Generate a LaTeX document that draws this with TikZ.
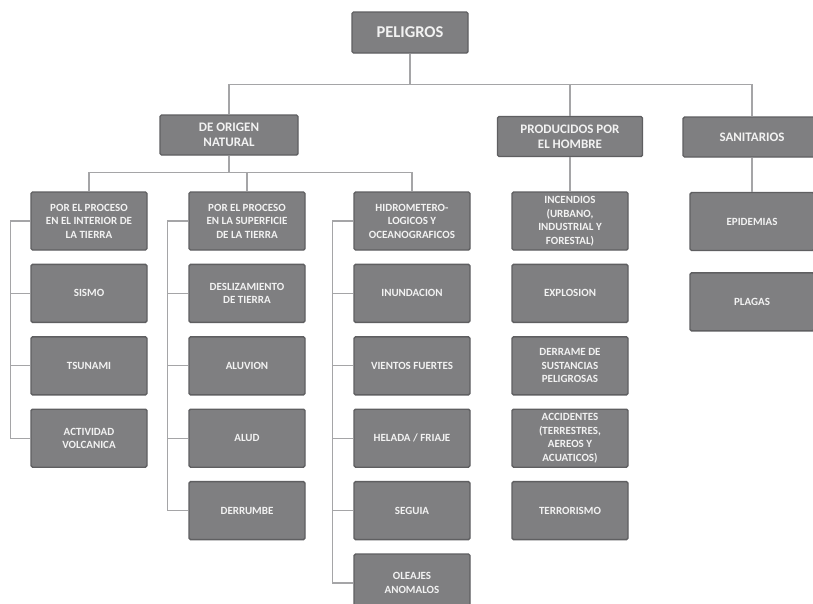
\documentclass[tikz,border=0pt]{standalone}
\usepackage{fontspec}
\setmainfont{Carlito}
\usetikzlibrary{positioning}
\definecolor{boxgray}{RGB}{127,127,129}
\definecolor{boxedge}{RGB}{95,95,97}
\definecolor{boxtext}{RGB}{242,242,242}
\definecolor{linegray}{RGB}{165,165,167}

\begin{document}
\begin{tikzpicture}[
  x=1pt, y=-1pt,
  node distance=13pt,
  box/.style={rectangle, draw=boxedge, fill=boxgray, line width=1.4pt, rounded corners=1.5pt,
              text=boxtext, align=center, inner sep=1pt, minimum width=116pt, minimum height=58pt,
              font=\fontsize{11}{13.5}\selectfont\bfseries},
  group/.style={box, minimum height=40pt, font=\fontsize{13}{15}\selectfont\bfseries},
  link/.style={draw=linegray, line width=1.1pt}
]
  \clip (0,0) rectangle (813,603);
  \fill[white] (0,0) rectangle (813,603);

  \node[group, minimum width=116pt, minimum height=41pt, font=\fontsize{16.5}{18}\selectfont\bfseries] (root) at (410,32.5) {PELIGROS};
  \node[group, minimum width=138pt] (natural) at (229,135) {DE ORIGEN\\NATURAL};
  \node[group, minimum width=145pt] (hombre) at (570,136.5) {PRODUCIDOS POR\\EL HOMBRE};
  \node[group, minimum width=138pt] (sanit) at (752,137) {SANITARIOS};

  \node[box] (interior) at (89,221) {POR EL PROCESO\\EN EL INTERIOR DE\\LA TIERRA};
  \node[box, below=of interior] (sismo) {SISMO};
  \node[box, below=of sismo] (tsunami) {TSUNAMI};
  \node[box, below=of tsunami] (volcan) {ACTIVIDAD\\VOLCANICA};

  \node[box] (superficie) at (247,221) {POR EL PROCESO\\EN LA SUPERFICIE\\DE LA TIERRA};
  \node[box, below=of superficie] (deslizamiento) {DESLIZAMIENTO\\DE TIERRA};
  \node[box, below=of deslizamiento] (aluvion) {ALUVION};
  \node[box, below=of aluvion] (alud) {ALUD};
  \node[box, below=of alud] (derrumbe) {DERRUMBE};

  \node[box] (hidro) at (412,221) {HIDROMETERO-\\LOGICOS Y\\OCEANOGRAFICOS};
  \node[box, below=of hidro] (inundacion) {INUNDACION};
  \node[box, below=of inundacion] (vientos) {VIENTOS FUERTES};
  \node[box, below=of vientos] (helada) {HELADA / FRIAJE};
  \node[box, below=of helada] (seguia) {SEGUIA};
  \node[box, below=of seguia] (oleajes) {OLEAJES\\ANOMALOS};

  \node[box] (incendios) at (570,221) {INCENDIOS\\(URBANO,\\INDUSTRIAL Y\\FORESTAL)};
  \node[box, below=of incendios] (explosion) {EXPLOSION};
  \node[box, below=of explosion] (derrame) {DERRAME DE\\SUSTANCIAS\\PELIGROSAS};
  \node[box, below=of derrame] (accidentes) {ACCIDENTES\\(TERRESTRES,\\AEREOS Y\\ACUATICOS)};
  \node[box, below=of accidentes] (terrorismo) {TERRORISMO};

  \node[box, minimum width=124pt] (epidemias) at (752,221.5) {EPIDEMIAS};
  \node[box, minimum width=124pt, below=21pt of epidemias] (plagas) {PLAGAS};

  \foreach \c in {natural,hombre,sanit}
    \draw[link] (root.south) -- ++(0,31) -| (\c.north);
  \foreach \c in {interior,superficie,hidro}
    \draw[link] (natural.south) -- ++(0,17) -| (\c.north);
  \foreach \c in {sismo,tsunami,volcan}
    \draw[link] (interior.west) -- ++(-20,0) |- (\c.west);
  \foreach \c in {deslizamiento,aluvion,alud,derrumbe}
    \draw[link] (superficie.west) -- ++(-21,0) |- (\c.west);
  \foreach \c in {inundacion,vientos,helada,seguia,oleajes}
    \draw[link] (hidro.west) -- ++(-21,0) |- (\c.west);
  \draw[link] (hombre.south) -- (incendios.north);
  \draw[link] (sanit.south) -- (epidemias.north);
\end{tikzpicture}
\end{document}
